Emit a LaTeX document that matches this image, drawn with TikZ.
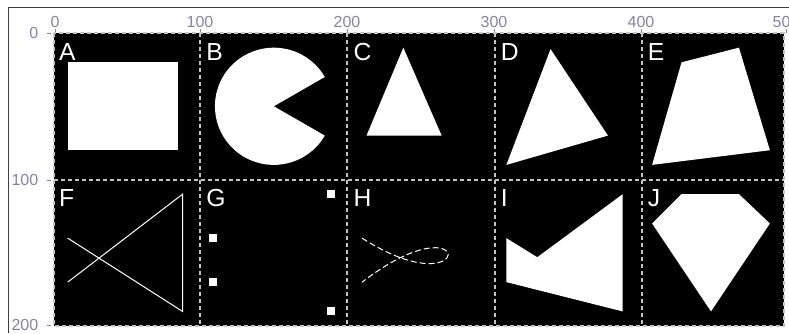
\documentclass[tikz,border=0pt]{standalone}
\usepackage{fontspec}
\setmainfont{Liberation Sans}
\usepackage{xcolor}
\usetikzlibrary{arrows.meta}
\definecolor{rulergray}{RGB}{135,130,160}
\definecolor{gridgray}{RGB}{195,195,195}

\begin{document}
\begin{tikzpicture}[x=0.75pt, y=-0.75pt,
  rulerlabel/.style={text=rulergray, font=\fontsize{12}{12}\selectfont, inner sep=0pt},
  rulertick/.style={draw=rulergray, line width=0.75pt},
  celllabel/.style={text=white, font=\fontsize{18.5}{18.5}\selectfont, inner sep=0pt, anchor=base west},
  gridline/.style={draw=gridgray, line width=1.5pt, dash pattern=on 3pt off 2.25pt},
  pointmark/.style={fill=white, minimum size=6pt, inner sep=0pt}]
  \useasboundingbox (0,0) rectangle (789,333);
  % frame of the window
  \draw[black!75, line width=0.75pt] (8,333) -- (8,7) -- (789,7);
  % rulers
  \foreach \v/\px in {0/55,100/200,200/347,300/494,400/641,500/786} {
    \node[rulerlabel, anchor=base] (top\v) at (\px,27) {\v};
    \draw[rulertick] (\px,29) -- (\px,33);
  }
  \foreach \v/\py in {0/33,100/180,200/325} {
    \node[rulerlabel, anchor=east] (left\v) at (38.5,\py) {\v};
    \draw[rulertick] (47,\py) -- (51,\py);
  }
  % canvas in its own units
  \begin{scope}[shift={(53,33)}, x=1.104pt, y=-1.099pt]
    \fill[black] (0.7,0) rectangle (496.6,200);
    \foreach \gx in {100,200,300,400}
      \draw[gridline] (\gx,0) -- (\gx,200);
    \draw[gridline] (0.7,100) -- (496.6,100);
    \draw[gridline] (0.7,0) rectangle (496.6,200);
    % A rectangle
    \fill[white] (10,20) rectangle (85,80);
    % B pie
    \fill[white] (150,50) -- ++(30:40) arc[start angle=30, end angle=330, radius=40] -- cycle;
    % C and D triangles
    \fill[white] (213,70) -- (238,10) -- (264,70) -- cycle;
    \fill[white] (338,11) -- (377,70) -- (308,90) -- cycle;
    % E quadrilateral
    \fill[white] (427,20) -- (466,10) -- (487,80) -- (407,90) -- cycle;
    % F lines
    \draw[white, line width=0.75pt] (10,140) -- (88,190) -- (88,110) -- (10,170);
    % G points
    \foreach \p [count=\i] in {(109,140),(109,170),(189,110),(189,190)}
      \node[pointmark] (g\i) at \p {};
    % H curve
    \draw[white, line width=0.75pt, dash pattern=on 4.5pt off 2.25pt]
      (210,140) .. controls (288,190) and (288,110) .. (210,170);
    % I and J polygons
    \fill[white] (308,140) -- (329,153) -- (387,110) -- (387,190) -- (308,170) -- cycle;
    \fill[white] (427,110) -- (466,110) -- (487,130) -- (447,190) -- (407,130) -- cycle;
    % cell letters
    \foreach \lab/\cx/\cy in {A/0/0,B/100/0,C/200/0,D/300/0,E/400/0,
                              F/0/100,G/100/100,H/200/100,I/300/100,J/400/100}
      \node[celllabel] (lab\lab) at (\cx+4,\cy+18.5) {\lab};
  \end{scope}
\end{tikzpicture}
\end{document}
